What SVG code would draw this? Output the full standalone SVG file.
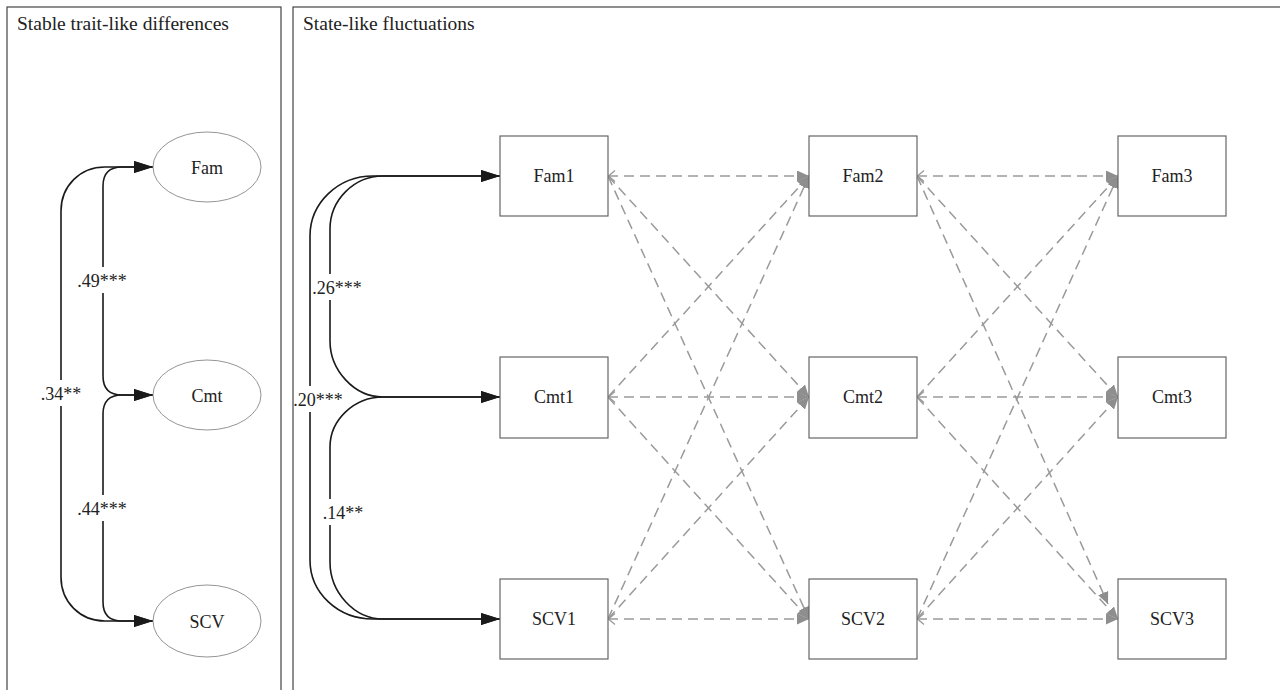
<svg xmlns="http://www.w3.org/2000/svg" width="1280" height="690" viewBox="0 0 1280 690">
  <style>
    text { font-family: "Liberation Serif", "Times New Roman", serif; font-size: 18px; fill: #222; }
    .title { font-size: 19.5px; }
    .mid { text-anchor: middle; dominant-baseline: central; }
    .panel { fill: none; stroke: #444; stroke-width: 1.2; }
    .latent { fill: #fff; stroke: #888; stroke-width: 0.9; }
    .obs { fill: #fff; stroke: #666; stroke-width: 1.2; }
    .cov { fill: none; stroke: #1a1a1a; stroke-width: 1.6; marker-start: url(#headBlack); marker-end: url(#headBlack); }
    .lag { fill: none; stroke: #9a9a9a; stroke-width: 1.5; stroke-dasharray: 10 6; marker-end: url(#headGrey); }
    .lag.straight { marker-start: url(#tailVee); }
    .lblbg { fill: #fff; }
  </style>
  <defs>
    <marker id="headBlack" viewBox="0 0 19 12" refX="19" refY="6" markerWidth="19" markerHeight="12" markerUnits="userSpaceOnUse" orient="auto-start-reverse">
      <path d="M0,0 L19,6 L0,12 Z" fill="#1a1a1a"/>
    </marker>
    <marker id="headGrey" viewBox="0 0 12 11" refX="12" refY="5.5" markerWidth="12" markerHeight="11" markerUnits="userSpaceOnUse" orient="auto">
      <path d="M0,0 L12,5.5 L0,11 Z" fill="#8e8e8e"/>
    </marker>
    <marker id="tailVee" viewBox="0 0 8 12" refX="0" refY="6" markerWidth="8" markerHeight="12" markerUnits="userSpaceOnUse" orient="auto">
      <path d="M7,0.5 L0.5,6 L7,11.5" fill="none" stroke="#9a9a9a" stroke-width="1.3"/>
    </marker>
  </defs>

  <!-- panels -->
  <g id="panel-trait">
    <rect class="panel" x="7" y="7" width="274" height="700"/>
    <text class="title" x="17" y="30">Stable trait-like differences</text>
  </g>
  <g id="panel-state">
    <rect class="panel" x="293" y="7" width="1000" height="700"/>
    <text class="title" x="303" y="30">State-like fluctuations</text>
  </g>

  <!-- connectors -->
  <g id="connectors">
    <!-- trait covariances -->
    <path class="cov" d="M153,167 L122,167 Q103,167 103,186 L103,376 Q103,395 122,395 L153,395"/>
    <path class="cov" d="M153,167 L105,167 C80,167 61,186 61,211 L61,577 C61,602 80,621 105,621 L153,621"/>
    <path class="cov" d="M153,395 L122,395 Q103,395 103,414 L103,602 Q103,621 122,621 L153,621"/>

    <!-- state covariances at time 1 -->
    <path class="cov" d="M500,176 L383,176 C354,176 330,200 330,229 L330,341 C330,370 354,397 383,397 L500,397"/>
    <path class="cov" d="M500,176 L373,176 C338,176 310,203 310,236 L310,560 C310,593 338,619 373,619 L500,619"/>
    <path class="cov" d="M500,397 L383,397 C354,397 330,420 330,447 L330,562 C330,592 354,619 383,619 L500,619"/>

    <!-- cross-lagged paths, time 1 to time 2 -->
    <path class="lag straight" d="M608,176 L809,176"/>
    <path class="lag" d="M608,176 L809,397"/>
    <path class="lag" d="M608,176 L809,619"/>
    <path class="lag" d="M608,397 L809,176"/>
    <path class="lag straight" d="M608,397 L809,397"/>
    <path class="lag" d="M608,397 L809,619"/>
    <path class="lag" d="M608,619 L809,176"/>
    <path class="lag" d="M608,619 L809,397"/>
    <path class="lag straight" d="M608,619 L809,619"/>

    <!-- cross-lagged paths, time 2 to time 3 -->
    <path class="lag straight" d="M917,176 L1118,176"/>
    <path class="lag" d="M917,176 L1118,397"/>
    <path class="lag" d="M917,176 L1108,604"/>
    <path class="lag" d="M917,397 L1118,176"/>
    <path class="lag straight" d="M917,397 L1118,397"/>
    <path class="lag" d="M917,397 L1118,619"/>
    <path class="lag" d="M917,619 L1118,176"/>
    <path class="lag" d="M917,619 L1118,397"/>
    <path class="lag straight" d="M917,619 L1118,619"/>

    <!-- coefficient labels -->
    <rect class="lblbg" x="77" y="267" width="51" height="26"/>
    <text class="mid" x="102" y="281">.49***</text>
    <rect class="lblbg" x="39" y="380" width="45" height="26"/>
    <text class="mid" x="61" y="394">.34**</text>
    <rect class="lblbg" x="77" y="495" width="51" height="26"/>
    <text class="mid" x="102" y="509">.44***</text>

    <rect class="lblbg" x="312" y="274" width="51" height="26"/>
    <text class="mid" x="337" y="288">.26***</text>
    <rect class="lblbg" x="295" y="386" width="48" height="26"/>
    <text class="mid" x="318" y="400">.20***</text>
    <rect class="lblbg" x="322" y="499" width="43" height="26"/>
    <text class="mid" x="343" y="513">.14**</text>
  </g>

  <!-- trait factors -->
  <g id="node-Fam">
    <ellipse class="latent" cx="207" cy="167" rx="54" ry="35"/>
    <text class="mid" x="207" y="168">Fam</text>
  </g>
  <g id="node-Cmt">
    <ellipse class="latent" cx="207" cy="395" rx="54" ry="35"/>
    <text class="mid" x="207" y="396">Cmt</text>
  </g>
  <g id="node-SCV">
    <ellipse class="latent" cx="207" cy="621" rx="54" ry="36"/>
    <text class="mid" x="207" y="622">SCV</text>
  </g>

  <!-- observed states, time 1 -->
  <g id="node-Fam1">
    <rect class="obs" x="500" y="136" width="108" height="80"/>
    <text class="mid" x="554" y="176">Fam1</text>
  </g>
  <g id="node-Cmt1">
    <rect class="obs" x="500" y="357" width="108" height="81"/>
    <text class="mid" x="554" y="397">Cmt1</text>
  </g>
  <g id="node-SCV1">
    <rect class="obs" x="500" y="579" width="108" height="80"/>
    <text class="mid" x="554" y="619">SCV1</text>
  </g>

  <!-- observed states, time 2 -->
  <g id="node-Fam2">
    <rect class="obs" x="809" y="136" width="108" height="80"/>
    <text class="mid" x="863" y="176">Fam2</text>
  </g>
  <g id="node-Cmt2">
    <rect class="obs" x="809" y="357" width="108" height="81"/>
    <text class="mid" x="863" y="397">Cmt2</text>
  </g>
  <g id="node-SCV2">
    <rect class="obs" x="809" y="579" width="108" height="80"/>
    <text class="mid" x="863" y="619">SCV2</text>
  </g>

  <!-- observed states, time 3 -->
  <g id="node-Fam3">
    <rect class="obs" x="1118" y="136" width="108" height="80"/>
    <text class="mid" x="1172" y="176">Fam3</text>
  </g>
  <g id="node-Cmt3">
    <rect class="obs" x="1118" y="357" width="108" height="81"/>
    <text class="mid" x="1172" y="397">Cmt3</text>
  </g>
  <g id="node-SCV3">
    <rect class="obs" x="1118" y="579" width="108" height="80"/>
    <text class="mid" x="1172" y="619">SCV3</text>
  </g>
</svg>
